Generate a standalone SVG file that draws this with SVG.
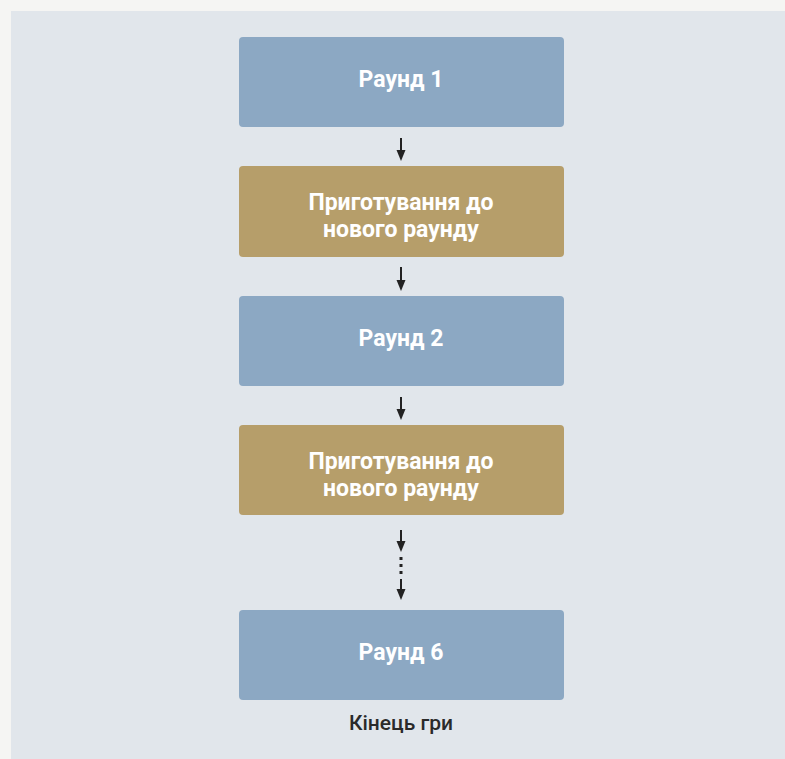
<svg xmlns="http://www.w3.org/2000/svg" width="785" height="759" viewBox="0 0 785 759">
<defs>
<style>
.blue{fill:#8ca8c3}
.gold{fill:#b69e6a}
.lbl{font-family:Roboto,"Liberation Sans",sans-serif;font-weight:bold;font-size:23px;fill:#ffffff;text-anchor:middle}
.ln{stroke:#222;stroke-width:2;fill:none}
.hd{fill:#222}
</style>
</defs>
<rect x="0" y="0" width="785" height="759" fill="#f5f5f3"/>
<rect x="11" y="11" width="774" height="748" fill="#e1e6eb"/>
<g id="connectors">
<line class="ln" x1="401" y1="138" x2="401" y2="152"/><path class="hd" d="M396.5,150 L405.5,150 L401,161 Z"/>
<line class="ln" x1="401" y1="267" x2="401" y2="282"/><path class="hd" d="M396.5,280 L405.5,280 L401,291 Z"/>
<line class="ln" x1="401" y1="397" x2="401" y2="411"/><path class="hd" d="M396.5,409 L405.5,409 L401,420 Z"/>
<line class="ln" x1="401" y1="530" x2="401" y2="543"/><path class="hd" d="M396.5,541 L405.5,541 L401,552 Z"/>
<rect class="hd" x="399.5" y="557" width="3" height="3"/>
<rect class="hd" x="399.5" y="564" width="3" height="3"/>
<rect class="hd" x="399.5" y="571" width="3" height="3"/>
<line class="ln" x1="401" y1="579" x2="401" y2="591"/><path class="hd" d="M396.5,589 L405.5,589 L401,600 Z"/>
</g>
<g id="round1"><rect class="blue" x="239" y="37" width="325" height="90" rx="4"/><text class="lbl" x="401" y="87">Раунд 1</text></g>
<g id="prep1"><rect class="gold" x="239" y="166" width="325" height="91" rx="4"/><text class="lbl" x="401" y="210">Приготування до</text><text class="lbl" x="401" y="237">нового раунду</text></g>
<g id="round2"><rect class="blue" x="239" y="296" width="325" height="90" rx="4"/><text class="lbl" x="401" y="346">Раунд 2</text></g>
<g id="prep2"><rect class="gold" x="239" y="425" width="325" height="90" rx="4"/><text class="lbl" x="401" y="469">Приготування до</text><text class="lbl" x="401" y="496">нового раунду</text></g>
<g id="round6"><rect class="blue" x="239" y="610" width="325" height="90" rx="4"/><text class="lbl" x="401" y="660">Раунд 6</text></g>
<g id="end"><text x="401" y="730" font-family="Roboto,'Liberation Sans',sans-serif" font-weight="500" font-size="21" fill="#2a2a2a" text-anchor="middle">Кінець гри</text></g>
</svg>
